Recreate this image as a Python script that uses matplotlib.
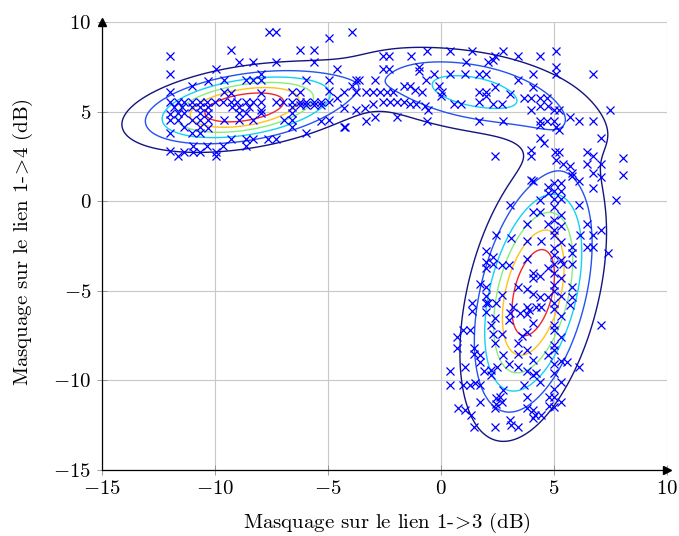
import numpy as np
import matplotlib
matplotlib.use("Agg")
import matplotlib.pyplot as plt

# ---------------- data ----------------
cluster_left = [
    (-7.6, 9.45), (-7.3, 9.45), (-4.95, 9.1), (-3.95, 9.45),
    (-9.3, 8.45), (-6.25, 8.45), (-5.6, 8.45), (-12.0, 8.1),
    (-8.95, 7.75), (-8.3, 7.75), (-7.3, 7.75), (-5.6, 7.75), (-9.95, 7.4), (-4.6, 7.4),
    (-12.0, 7.1), (-7.95, 7.1),
    (-10.3, 6.7), (-9.6, 6.75), (-8.6, 6.75), (-8.3, 6.75), (-7.95, 6.75), (-5.95, 6.75),
    (-4.95, 6.75), (-3.75, 6.75), (-11.0, 6.45), (-3.95, 6.45),
    (-12.0, 6.1), (-9.6, 6.1), (-9.3, 6.05), (-7.95, 6.05), (-6.6, 6.1), (-6.25, 6.1),
    (-4.95, 6.15), (-3.75, 6.1),
    (-12.0, 5.55), (-11.65, 5.55), (-11.35, 5.55), (-11.0, 5.55), (-10.65, 5.55), (-10.35, 5.55),
    (-10.0, 5.55), (-9.65, 5.55), (-9.3, 5.55), (-9.0, 5.55), (-8.6, 5.55), (-8.3, 5.55),
    (-7.95, 5.55), (-7.3, 5.55), (-7.0, 5.55), (-6.6, 5.55), (-6.25, 5.55), (-5.95, 5.55),
    (-5.6, 5.55), (-5.3, 5.55), (-4.95, 5.55), (-4.6, 5.75),
    (-11.8, 5.25), (-11.45, 5.25), (-11.0, 5.25), (-10.65, 5.25), (-10.3, 5.25), (-9.25, 5.25),
    (-8.95, 5.25), (-8.5, 5.25), (-7.95, 5.1), (-6.6, 5.25), (-6.25, 5.35), (-5.95, 5.35),
    (-5.6, 5.35), (-5.3, 5.35), (-3.75, 5.1),
    (-12.0, 4.85), (-11.65, 4.9), (-11.35, 4.9), (-10.65, 4.9), (-10.3, 4.9), (-8.95, 4.9),
    (-8.6, 4.9), (-7.95, 4.9), (-6.6, 4.9),
    (-12.0, 4.55), (-11.65, 4.55), (-11.0, 4.55), (-10.65, 4.55), (-10.3, 4.55), (-9.6, 4.55),
    (-8.95, 4.55), (-8.3, 4.55), (-6.95, 4.55), (-6.6, 4.55), (-5.3, 4.45), (-4.95, 4.55),
    (-11.35, 4.15), (-10.65, 4.15), (-10.3, 4.1), (-6.6, 4.15), (-4.25, 4.15),
    (-12.0, 3.8), (-11.0, 3.8), (-10.65, 3.8), (-5.95, 3.8),
    (-9.3, 3.45), (-8.6, 3.45), (-8.3, 3.45), (-7.65, 3.45), (-7.3, 3.45),
    (-10.95, 3.1), (-10.35, 3.1), (-9.65, 3.1), (-8.6, 3.1),
    (-12.0, 2.8), (-11.35, 2.75), (-10.95, 2.75), (-10.65, 2.75), (-9.95, 2.75),
    (-11.65, 2.5), (-9.95, 2.5),
]

cluster_top = [
    (-2.55, 8.1), (-2.3, 8.1), (-1.3, 8.1), (-0.6, 8.4), (0.4, 8.4), (1.4, 8.4),
    (2.4, 8.1), (2.75, 8.4), (3.4, 8.1), (4.4, 8.1), (5.1, 8.4),
    (-2.55, 7.4), (-2.3, 7.4), (-0.95, 7.5), (-0.95, 7.25), (1.1, 7.75), (2.1, 7.75),
    (2.3, 7.9), (5.1, 7.5), (5.1, 7.1),
    (-0.3, 7.1), (0.4, 7.1), (1.05, 7.1), (1.7, 7.1), (2.0, 7.1), (4.1, 7.1), (6.75, 7.1),
    (-3.6, 6.75), (-2.9, 6.75), (3.4, 6.75),
    (-1.65, 6.45), (-1.35, 6.45), (-1.15, 6.2), (-0.85, 6.1), (-0.65, 6.75), (-0.1, 6.45),
    (0.05, 6.1), (0.0, 5.85), (4.1, 6.4),
    (-4.3, 6.1), (-3.3, 6.1), (-3.0, 6.1), (-2.7, 6.1), (-2.4, 6.1), (-2.1, 6.1),
    (-4.3, 5.2), (-3.35, 5.2), (-3.0, 5.4), (-2.55, 5.55), (-2.25, 5.55), (-1.95, 5.55),
    (-1.65, 5.55), (-1.35, 5.45), (-1.1, 5.45), (-0.7, 5.3), (-0.55, 5.1),
    (-3.3, 4.5), (-2.9, 4.7), (-1.95, 4.7), (-0.6, 4.45), (-4.3, 4.15),
    (0.6, 5.45), (0.9, 5.45), (1.7, 5.55), (2.0, 5.85), (2.3, 5.45), (2.7, 5.45),
    (3.05, 6.0), (3.7, 5.75), (4.0, 5.75), (4.4, 5.75), (4.7, 5.75),
    (1.7, 6.1), (2.0, 6.1), (2.4, 6.4), (1.7, 4.45), (2.75, 4.45),
    (4.0, 5.1), (4.4, 5.3), (4.75, 5.3), (5.0, 5.1), (5.25, 5.1), (5.7, 4.7),
    (6.1, 4.45), (6.75, 4.45), (7.5, 5.1),
    (4.4, 4.45), (4.7, 4.5), (5.0, 4.5), (5.1, 4.15), (5.25, 3.95), (4.4, 4.25),
    (4.4, 3.5), (4.55, 3.25), (4.0, 2.85), (4.0, 2.5), (5.05, 2.75), (5.25, 2.75),
    (5.1, 2.3), (5.4, 2.1), (5.7, 1.95), (6.45, 2.75), (6.75, 2.5), (6.45, 2.1),
    (7.1, 2.1), (8.05, 2.4), (8.05, 1.45), (6.75, 1.55), (7.1, 1.35), (2.4, 2.5),
    (4.0, 1.2), (5.8, 1.4), (7.1, 3.5),
]

cluster_right = [
    (5.0, 1.0), (5.3, 1.0), (5.0, 0.55), (5.3, 0.55), (5.0, 0.1), (5.3, 0.1),
    (5.0, -0.3), (5.3, -0.75), (5.0, -1.05), (5.3, -1.4), (5.0, -1.6), (5.0, -1.9),
    (5.3, -2.25), (5.0, -2.6), (5.0, -3.0), (5.3, -3.3), (5.0, -3.5), (5.0, -4.0),
    (5.3, -4.3), (5.0, -4.7), (5.0, -5.0), (5.3, -5.3), (5.0, -5.7), (5.0, -6.0),
    (5.3, -6.4), (5.0, -6.9), (5.0, -7.2), (5.3, -7.6), (5.0, -8.0), (5.0, -8.3),
    (5.3, -8.9), (5.0, -9.1), (5.0, -9.6), (5.3, -10.1), (5.0, -10.5), (5.0, -10.9),
    (5.3, -11.2), (5.0, -11.5), (4.8, -11.4),
    (3.05, -0.2), (4.1, -0.6), (4.4, -0.6), (6.1, -0.2), (6.45, -1.25), (3.8, -1.25),
    (4.75, -1.25), (2.45, -1.9), (3.1, -2.05), (3.8, -2.2), (4.45, -2.2), (6.15, -1.9),
    (6.75, -1.9), (6.75, -2.55), (7.1, -1.6), (6.45, -2.55), (7.4, -2.9), (5.8, -2.55),
    (5.8, -2.9), (4.75, 0.8), (4.75, 0.45), (4.4, 0.05), (5.8, 1.55), (6.1, 1.1),
    (6.75, 0.75), (7.75, 0.05), (4.1, 1.1),
    (2.0, -2.8), (2.3, -3.1), (2.0, -3.4), (2.3, -3.5), (2.7, -3.55), (3.0, -3.55),
    (2.0, -3.7), (3.8, -3.2), (4.1, -4.0), (4.1, -4.3), (4.4, -4.2), (4.75, -3.7),
    (5.4, -3.5), (5.8, -3.5),
    (1.75, -4.6), (2.0, -4.8), (2.0, -5.3), (2.0, -5.7), (1.4, -5.7), (2.7, -5.25),
    (3.4, -4.8), (3.8, -4.9), (4.1, -5.2), (4.4, -5.35), (4.75, -5.35), (5.8, -5.35),
    (5.8, -4.8),
    (1.4, -6.1), (2.0, -6.2), (3.05, -6.25), (3.5, -6.25), (3.9, -6.05),
    (2.1, -5.7), (2.46, -5.7), (3.2, -5.9), (3.8, -5.9), (4.2, -5.9), (4.45, -5.9),
    (5.7, -5.8), (3.0, -6.6), (3.8, -6.3), (4.1, -6.8), (2.4, -6.5), (2.2, -6.9),
    (7.1, -6.9),
    (0.7, -7.55), (1.0, -7.2), (1.3, -7.2), (0.7, -8.2), (1.45, -8.2), (1.45, -8.5),
    (1.75, -8.6), (1.75, -8.95), (2.3, -7.4), (2.4, -7.9), (2.7, -7.4), (3.4, -7.9),
    (3.6, -7.5), (3.8, -7.3), (2.75, -8.6), (3.4, -8.5), (3.8, -8.3), (4.75, -8.6),
    (4.1, -8.85), (5.6, -8.95), (6.1, -9.25),
    (0.4, -9.5), (0.4, -10.25), (1.05, -9.25), (1.9, -9.5), (2.2, -9.4), (2.5, -9.25),
    (2.2, -9.7), (1.0, -10.25), (1.3, -10.25), (1.5, -10.15), (1.75, -10.25),
    (0.75, -11.55), (1.05, -11.65), (1.35, -11.95), (1.45, -12.6), (1.75, -11.2),
    (2.45, -11.0), (2.45, -11.3), (2.4, -11.55), (2.7, -11.2), (2.4, -12.6),
    (3.05, -12.2), (3.1, -12.5), (3.4, -12.6), (3.8, -11.55), (4.1, -11.65),
    (4.15, -11.95), (4.1, -12.1), (4.45, -11.95), (3.8, -10.9), (4.8, -10.9),
    (3.7, -10.25), (2.75, -10.55), (2.6, -10.9), (4.1, -9.7), (4.4, -10.1),
    (3.8, -9.5), (4.2, -9.6), (3.4, -9.25), (3.0, -9.1),
]

# Gaussian-mixture surface drawn as contours: centre, spread, correlation, peak height
gmm_mean_x = [-8.71, 4.09, 1.18, 2.21]
gmm_mean_y = [5.23, -5.10, 6.19, 5.76]
gmm_sigma_x = [2.704, 1.640, 3.006, 3.636]
gmm_sigma_y = [1.255, 4.196, 1.518, 1.862]
gmm_rho = [0.377, 0.407, -0.112, -0.721]
gmm_peak = [7.359, 7.068, 2.016, 1.561]
contour_levels = [1, 2, 3, 4, 5, 6]
level_colors = ['#14147f', '#2352f0', '#12d2f2', '#86ee7a', '#ffc21a', '#f22626']

x_ticks = [-15, -10, -5, 0, 5, 10]
y_ticks = [-15, -10, -5, 0, 5, 10]
x_label = r"Masquage sur le lien 1-$\!>\!$3 (dB)"
y_label = r"Masquage sur le lien 1-$\!>\!$4 (dB)"

# ---------------- figure ----------------
plt.rcParams['font.family'] = ['cmr10', 'DejaVu Serif']
plt.rcParams['mathtext.fontset'] = 'cm'
plt.rcParams['axes.formatter.use_mathtext'] = True
plt.rcParams['axes.unicode_minus'] = True

FS = 15

fig = plt.figure(figsize=(6.79, 5.36), dpi=100)
ax = fig.add_axes([0.150, 0.123, 0.832, 0.836])
ax.set_xlim(-15, 10)
ax.set_ylim(-15, 10)

gx = np.linspace(-15, 10, 400)
gy = np.linspace(-15, 10, 400)
X, Y = np.meshgrid(gx, gy)
Z = np.zeros_like(X)
for mx, my, sx, sy, r, pk in zip(gmm_mean_x, gmm_mean_y, gmm_sigma_x, gmm_sigma_y, gmm_rho, gmm_peak):
    dx = (X - mx) / sx
    dy = (Y - my) / sy
    q = (dx**2 - 2*r*dx*dy + dy**2) / (1 - r**2)
    Z += pk * np.exp(-0.5*q)
ax.contour(X, Y, Z, levels=contour_levels, colors=level_colors, linewidths=1.0, zorder=2)

for pts in (cluster_left, cluster_top, cluster_right):
    arr = np.array(pts)
    ax.plot(arr[:, 0], arr[:, 1], 'x', color='#0000ff', markersize=5.5,
            markeredgewidth=0.9, zorder=3)

ax.set_xticks(x_ticks)
ax.set_yticks(y_ticks)
ax.grid(True, color='#c8c8c8', linewidth=0.8, zorder=0)
ax.set_axisbelow(True)
ax.tick_params(direction='inout', length=7, width=0.6, color='#8c8c8c',
               labelsize=FS, pad=4)
for s in ('top', 'right'):
    ax.spines[s].set_visible(False)
for s in ('left', 'bottom'):
    ax.spines[s].set_linewidth(0.9)
ax.plot(1, 0, marker='>', color='k', markersize=5.5, transform=ax.transAxes, clip_on=False, zorder=5)
ax.plot(0, 1, marker='^', color='k', markersize=5.5, transform=ax.transAxes, clip_on=False, zorder=5)

fig.text(387/679, 1 - 523/536, x_label, fontsize=FS, ha='center', va='center')
fig.text(23/679, 1 - 242/536, y_label, fontsize=FS, ha='center', va='center', rotation=90)

fig.savefig('out.png', dpi=100)
